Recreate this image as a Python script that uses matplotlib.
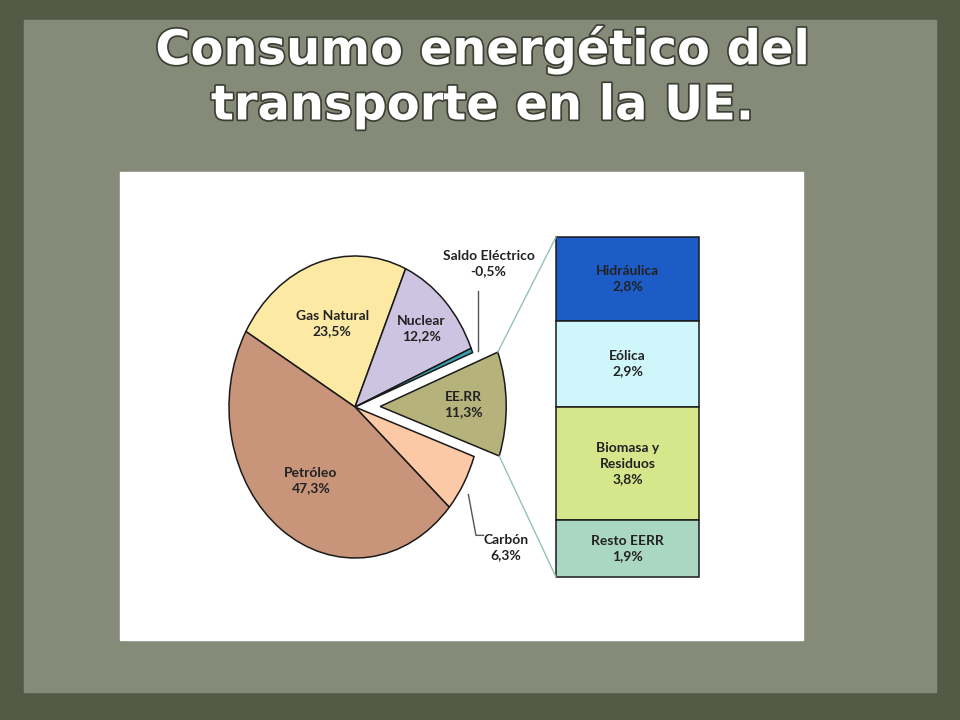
import matplotlib
matplotlib.use("Agg")
import matplotlib.pyplot as plt
import numpy as np
from matplotlib.patches import Rectangle, ConnectionPatch
import matplotlib.patheffects as pe

# ---------------- data ----------------
pie_labels = ["Gas Natural", "Nuclear", "Saldo Eléctrico", "EE.RR", "Carbón", "Petróleo"]
pie_values = [23.5, 12.2, 0.5, 11.3, 6.3, 47.3]
pie_texts = ["23,5%", "12,2%", "-0,5%", "11,3%", "6,3%", "47,3%"]
pie_colors = ["#fce9a3", "#cdc4e1", "#3a9fb0", "#b6b27b", "#fcc9a6", "#c9957a"]

bar_labels = ["Hidráulica", "Eólica", "Biomasa y\nResiduos", "Resto EERR"]
bar_values = [2.8, 2.9, 3.8, 1.9]
bar_texts = ["2,8%", "2,9%", "3,8%", "1,9%"]
bar_colors = ["#1d5cc6", "#cef6fb", "#d6e68a", "#a9d7c2"]

title_lines = ["Consumo energético del", "transporte en la UE."]

W, H = 960, 720
fig = plt.figure(figsize=(W / 100, H / 100), dpi=100)
fig.patch.set_facecolor("#555b47")

def px_axes(x0, y0, x1, y1, **kw):
    return fig.add_axes([x0 / W, 1 - y1 / H, (x1 - x0) / W, (y1 - y0) / H], **kw)

# ---------------- background ----------------
bg = px_axes(0, 0, W, H)
bg.set_xlim(0, W)
bg.set_ylim(H, 0)
bg.axis("off")
bg.add_patch(Rectangle((0, 0), W, H, color="#535a45", zorder=0))
bg.add_patch(Rectangle((24, 20), 912, 672, color="#868b79", zorder=1))
bg.add_patch(Rectangle((120, 172), 683, 468, color="white", zorder=2))

tfont = dict(family=["DejaVu Sans"], weight="bold", color="white", ha="center", va="center", fontsize=34.5)
for i, line in enumerate(title_lines):
    t = bg.text(482, 50 + 56 * i, line, zorder=3, **tfont)
    t.set_path_effects([pe.withStroke(linewidth=2.5, foreground="#3c4034")])

lab_font = dict(family=["Lato", "DejaVu Sans"], weight="bold", color="#222222",
                ha="center", va="center", fontsize=10, linespacing=1.35)

# ---------------- pie ----------------
cx, cy, rx, ry = 355, 407, 126, 151
lim = 1.3
ax = px_axes(cx - lim * rx, cy - lim * ry, cx + lim * rx, cy + lim * ry)
explode = [0, 0, 0, 0.2, 0, 0]
wedges, _ = ax.pie(pie_values, colors=pie_colors, explode=explode, startangle=150,
                   counterclock=False,
                   wedgeprops=dict(edgecolor="#1a1a1a", linewidth=1.1))
ax.set_aspect("auto")
ax.set_xlim(-lim, lim)
ax.set_ylim(-lim, lim)
ax.axis("off")
ax.patch.set_alpha(0)

label_r = {"Gas Natural": 0.58, "Nuclear": 0.74, "EE.RR": 0.86, "Petróleo": 0.6}
for w, name, txt in zip(wedges, pie_labels, pie_texts):
    if name in label_r:
        mid = np.deg2rad((w.theta1 + w.theta2) / 2)
        r = label_r[name]
        ax.text(r * np.cos(mid), r * np.sin(mid), f"{name}\n{txt}", **lab_font)

# Saldo Eléctrico label with leader
ax.plot([0.976, 0.976], [0.37, 0.77], color="#555555", lw=1)
ax.text(1.06, 0.95, f"Saldo Eléctrico\n{pie_texts[2]}", **lab_font)

# Carbón label with leader
ax.plot([0.90, 0.96, 1.02], [-0.58, -0.85, -0.85], color="#555555", lw=1)
ax.text(1.2, -0.93, f"Carbón\n{pie_texts[4]}", **lab_font)

# ---------------- bar ----------------
bx = px_axes(556, 237, 699, 577)
bottom = 0
for v, c, name, txt in zip(bar_values, bar_colors, bar_labels, bar_texts):
    bx.bar(0, v, bottom=bottom, width=1, color=c, edgecolor="#1a1a1a", linewidth=1.1,
           clip_on=False)
    bx.text(0, bottom + v / 2, f"{name}\n{txt}", **lab_font)
    bottom += v
bx.set_xlim(-0.5, 0.5)
bx.set_ylim(sum(bar_values), 0)
bx.axis("off")

# ---------------- connectors ----------------
we = wedges[pie_labels.index("EE.RR")]
c0 = we.center
for ang, yb in [(we.theta2, 0), (we.theta1, sum(bar_values))]:
    a = np.deg2rad(ang)
    p = (c0[0] + we.r * np.cos(a), c0[1] + we.r * np.sin(a))
    con = ConnectionPatch(xyA=p, coordsA=ax.transData, xyB=(-0.5, yb), coordsB=bx.transData,
                          color="#93c4b2", lw=1.0)
    fig.add_artist(con)

fig.savefig("out.png", dpi=100, facecolor=fig.get_facecolor())
